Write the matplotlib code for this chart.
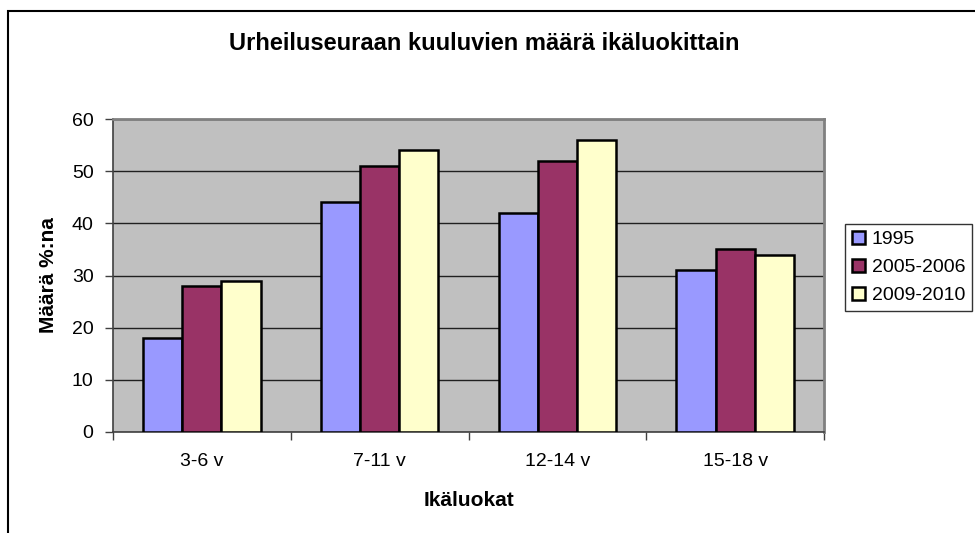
import matplotlib
matplotlib.use('Agg')
import matplotlib.pyplot as plt
import matplotlib.patches as patches
import numpy as np

plt.rcParams['font.family'] = ['Liberation Sans', 'DejaVu Sans']

categories = ['3-6 v', '7-11 v', '12-14 v', '15-18 v']
series_names = ['1995', '2005-2006', '2009-2010']
v1995 = [18, 44, 42, 31]
v2005 = [28, 51, 52, 35]
v2009 = [29, 54, 56, 34]
colors = ['#9999FF', '#993366', '#FFFFCC']

fig = plt.figure(figsize=(9.75, 5.33), dpi=100)
ax = fig.add_axes([113/975, 1-432/533, 711/975, 313/533])
ax.set_facecolor('#C0C0C0')

x = np.arange(len(categories))
w = 0.22
for i, vals in enumerate([v1995, v2005, v2009]):
    ax.bar(x + (i-1)*w, vals, w, color=colors[i], edgecolor='black',
           linewidth=1.8, label=series_names[i], zorder=3)

ax.set_xlim(-0.5, 3.5)
ax.set_ylim(0, 60)
ax.set_yticks(range(0, 61, 10))
ax.yaxis.grid(True, color='#202020', linewidth=1.0, zorder=1)
ax.set_axisbelow(True)

# ticks at category boundaries, labels at centers
ax.set_xticks(np.arange(-0.5, 4.0, 1.0))
ax.set_xticklabels([])
ax.set_xticks(x, minor=True)
ax.set_xticklabels(categories, minor=True, fontsize=14)
ax.tick_params(axis='x', which='major', length=6, width=1, color='#404040')
ax.tick_params(axis='x', which='minor', length=0, pad=15)
ax.tick_params(axis='y', length=6, width=1, color='#404040', pad=8, labelsize=14)

for s in ['left', 'bottom']:
    ax.spines[s].set_color('#404040')
    ax.spines[s].set_linewidth(1.2)
for s in ['top', 'right']:
    ax.spines[s].set_color('#808080')
    ax.spines[s].set_linewidth(2)

ax.set_xlabel('Ikäluokat', fontsize=15, fontweight='bold', labelpad=15)
ax.set_ylabel('Määrä %:na', fontsize=15, fontweight='bold', labelpad=10)

fig.text(0.497, 1-43/533, 'Urheiluseuraan kuuluvien määrä ikäluokittain',
         ha='center', va='center', fontsize=17, fontweight='bold')

leg = fig.legend(loc='upper left', bbox_to_anchor=(845/975, 1-224/533),
                 fontsize=14, frameon=True, fancybox=False, edgecolor='black',
                 handlelength=0.65, handleheight=0.65, handletextpad=0.36,
                 labelspacing=0.55, borderpad=0.36, borderaxespad=0)
leg.get_frame().set_linewidth(1.0)

# outer chart frame (extends past right/bottom edges)
frame = patches.Rectangle((8/975, -0.1), 1.2, 1.1 - 11/533, transform=fig.transFigure,
                          fill=False, edgecolor='black', linewidth=1.5, clip_on=False)
fig.patches.append(frame)

fig.savefig('out.png', dpi=100)
